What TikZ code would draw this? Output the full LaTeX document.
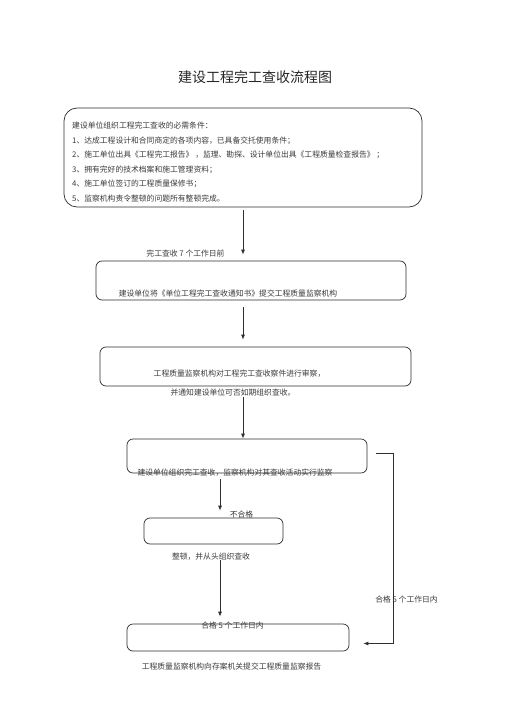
\documentclass[tikz,border=0pt]{standalone}
\usepackage{fontspec}
\newfontfamily\cjk{Noto Sans CJK SC}
\usepackage{tikz}
\usetikzlibrary{arrows.meta,positioning,calc}
\usepackage{xcolor}
\definecolor{lineink}{HTML}{2E2E2E}
\definecolor{textink}{HTML}{3A3A3A}
\tikzset{
  flowbox/.style={
    rounded corners=6pt,
    draw=lineink,
    line width=0.7pt,
    inner sep=0pt
  },
  condbox/.style={
    rounded corners=13pt,
    draw=lineink,
    line width=0.7pt,
    inner sep=0pt
  },
  note/.style={
    text=textink,
    inner sep=0pt,
    font=\cjk\fontsize{7.8}{9}\selectfont
  },
  flowarrow/.style={
    -{Latex[length=5pt,width=4pt]},
    line width=0.8pt,
    draw=lineink
  }
}

\begin{document}
\begin{tikzpicture}[x=1pt,y=-1pt]
\useasboundingbox (0,0) rectangle (505,714);
\node[font=\cjk\fontsize{14}{16}\selectfont, text=black!85] (title) at (255,77) {建设工程完工查收流程图};
% boxes
\node[condbox, minimum width=358pt, minimum height=99pt] (cond) at (243,157.5) {};
\node[flowbox, minimum width=310pt, minimum height=39pt] (notice) at (251,280.5) {};
\node[flowbox, minimum width=311pt, minimum height=39pt] (review) at (255.5,366.5) {};
\node[flowbox, minimum width=240pt, minimum height=34pt] (accept) at (247,456) {};
\node[flowbox, minimum width=139pt, minimum height=26pt] (rectify) at (213.5,531) {};
\node[flowbox, minimum width=222pt, minimum height=27pt] (report) at (238,637.5) {};
% texts
\node[note, anchor=north west, align=left, font=\cjk\fontsize{7.8}{14.5}\selectfont] (condtext) at (72,122) {%
建设单位组织工程完工查收的必需条件：\\
1、达成工程设计和合同商定的各项内容，已具备交托使用条件；\\
2、施工单位出具《工程完工报告》 ，监理、勘探、设计单位出具《工程质量检查报告》 ；\\
3、拥有完好的技术档案和施工管理资料；\\
4、施工单位签订的工程质量保修书；\\
5、监察机构责令整顿的问题所有整顿完成。};
\node[note] (beforelbl) at (185.5,254) {完工查收 7 个工作日前};
\node[note] (noticetext) at (228,294) {建设单位将《单位工程完工查收通知书》提交工程质量监察机构};
\node[note] (reviewtext) at (239.5,374) {工程质量监察机构对工程完工查收察件进行审察，};
\node[note] (reviewtext2) at (233,393) {并通知建设单位可否如期组织查收。};
\node[note] (accepttext) at (235,473) {建设单位组织完工查收，监察机构对其查收活动实行监察};
\node[note] (faillbl) at (241.5,515) {不合格};
\node[note] (rectifytext) at (211,557) {整顿，并从头组织查收};
\node[note] (passlbl) at (406.5,600) {合格 5 个工作日内};
\node[note] (passlbl2) at (232.5,626) {合格 5 个工作日内};
\node[note] (reporttext) at (231.5,667) {工程质量监察机构向存案机关提交工程质量监察报告};
% connectors
\coordinate (leftcol) at (220,0);
\coordinate (passcol) at (393,0);
\draw[flowarrow, shorten <=3pt, shorten >=6pt] (cond.south) -- (cond.south |- notice.north);
\draw[flowarrow, shorten <=7pt, shorten >=7pt] (notice.south -| cond.south) -- (review.north -| cond.south);
\draw[flowarrow] ([yshift=-11pt]review.south -| cond.south) -- (accept.north -| cond.south);
\draw[flowarrow, shorten >=7pt] ([yshift=-6pt]accept.south -| leftcol) -- (rectify.north -| leftcol);
\draw[flowarrow, shorten >=7pt] ([yshift=-16pt]rectify.south -| leftcol) -- (report.north -| leftcol);
\coordinate (passstart) at ([xshift=9pt,yshift=3pt]accept.east);
\draw[flowarrow] (passstart) -- (passstart -| passcol) |- ([xshift=14pt,yshift=-6pt]report.east);
\end{tikzpicture}
\end{document}
